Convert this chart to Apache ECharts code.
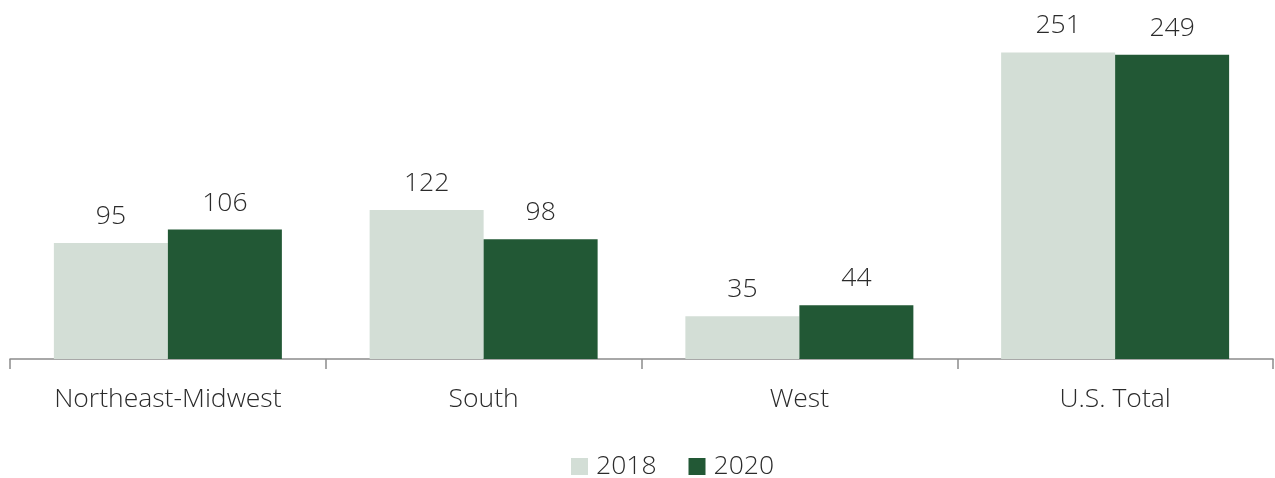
<!DOCTYPE html>
<html>
<head>
<meta charset="utf-8">
<script src="https://cdn.jsdelivr.net/npm/echarts@6/dist/echarts.min.js"></script>
<style>
html, body { margin: 0; padding: 0; background: #fff; }
#chart { width: 1275px; height: 478px; }
</style>
</head>
<body>
<div id="chart"></div>
<script>
const regions = ['Northeast-Midwest', 'South', 'West', 'U.S. Total'];
const values2018 = [95, 122, 35, 251];
const values2020 = [106, 98, 44, 249];
const seriesNames = ['2018', '2020'];

const FONT = '"Open Sans", sans-serif';
const TEXT = '#2b2b2b';
const SIZE = 26.5;

const chart = echarts.init(document.getElementById('chart'), null, { renderer: 'canvas' });

const label = {
  show: true,
  position: 'top',
  distance: 13,
  fontFamily: FONT,
  fontWeight: 300,
  fontSize: SIZE,
  color: TEXT
};

chart.setOption({
  animation: false,
  grid: { left: 10, right: 2, top: 17, bottom: 119, containLabel: false },
  legend: {
    data: seriesNames,
    left: 571,
    top: 453,
    padding: 0,
    itemWidth: 17,
    itemHeight: 17,
    itemGap: 32,
    icon: 'rect',
    textStyle: { fontFamily: FONT, fontWeight: 300, fontSize: SIZE, color: TEXT, padding: [0, 0, 0, 3] }
  },
  xAxis: {
    type: 'category',
    data: regions,
    axisLine: { lineStyle: { color: '#8c8c8c', width: 1.5 } },
    axisTick: { show: true, length: 10, lineStyle: { color: '#8c8c8c', width: 1.5 } },
    axisLabel: { fontFamily: FONT, fontWeight: 300, fontSize: SIZE, color: TEXT, margin: 27 }
  },
  yAxis: {
    type: 'value',
    min: 0,
    max: 280,
    show: false,
    splitLine: { show: false }
  },
  series: [
    {
      name: seriesNames[0],
      type: 'bar',
      data: values2018,
      barWidth: 114,
      barGap: '0%',
      itemStyle: { color: '#d3ded6' },
      label: label
    },
    {
      name: seriesNames[1],
      type: 'bar',
      data: values2020,
      barWidth: 114,
      barGap: '0%',
      itemStyle: { color: '#225835' },
      label: label
    }
  ]
});
</script>
</body>
</html>
